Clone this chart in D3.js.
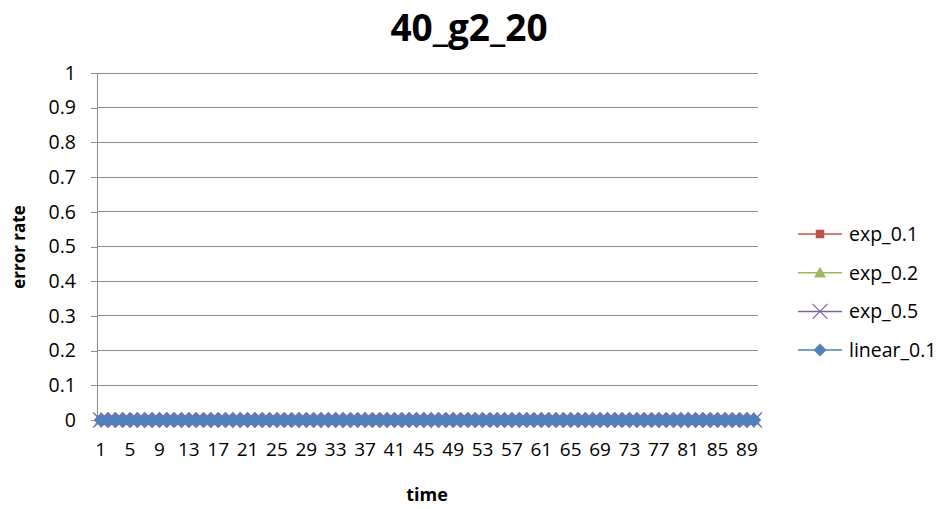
<!DOCTYPE html>
<html>
<head>
<meta charset="utf-8">
<script src="https://cdn.jsdelivr.net/npm/d3@7/dist/d3.min.js"></script>
<style>
  body { margin: 0; background: #fff; }
  svg { display: block; }
  text { font-family: "Open Sans", Lato, "Liberation Sans", sans-serif; fill: #000; }
</style>
</head>
<body>
<svg id="chart" width="944" height="509"></svg>
<script>
// time steps 1..90
const times = [
  1,2,3,4,5,6,7,8,9,10,11,12,13,14,15,16,17,18,19,20,
  21,22,23,24,25,26,27,28,29,30,31,32,33,34,35,36,37,38,39,40,
  41,42,43,44,45,46,47,48,49,50,51,52,53,54,55,56,57,58,59,60,
  61,62,63,64,65,66,67,68,69,70,71,72,73,74,75,76,77,78,79,80,
  81,82,83,84,85,86,87,88,89,90
];
const exp01 = [
  0,0,0,0,0,0,0,0,0,0,0,0,0,0,0,0,0,0,0,0,0,0,0,0,0,0,0,0,0,0,
  0,0,0,0,0,0,0,0,0,0,0,0,0,0,0,0,0,0,0,0,0,0,0,0,0,0,0,0,0,0,
  0,0,0,0,0,0,0,0,0,0,0,0,0,0,0,0,0,0,0,0,0,0,0,0,0,0,0,0,0,0
];
const exp02 = [
  0,0,0,0,0,0,0,0,0,0,0,0,0,0,0,0,0,0,0,0,0,0,0,0,0,0,0,0,0,0,
  0,0,0,0,0,0,0,0,0,0,0,0,0,0,0,0,0,0,0,0,0,0,0,0,0,0,0,0,0,0,
  0,0,0,0,0,0,0,0,0,0,0,0,0,0,0,0,0,0,0,0,0,0,0,0,0,0,0,0,0,0
];
const exp05 = [
  0,0,0,0,0,0,0,0,0,0,0,0,0,0,0,0,0,0,0,0,0,0,0,0,0,0,0,0,0,0,
  0,0,0,0,0,0,0,0,0,0,0,0,0,0,0,0,0,0,0,0,0,0,0,0,0,0,0,0,0,0,
  0,0,0,0,0,0,0,0,0,0,0,0,0,0,0,0,0,0,0,0,0,0,0,0,0,0,0,0,0,0
];
const linear01 = [
  0,0,0,0,0,0,0,0,0,0,0,0,0,0,0,0,0,0,0,0,0,0,0,0,0,0,0,0,0,0,
  0,0,0,0,0,0,0,0,0,0,0,0,0,0,0,0,0,0,0,0,0,0,0,0,0,0,0,0,0,0,
  0,0,0,0,0,0,0,0,0,0,0,0,0,0,0,0,0,0,0,0,0,0,0,0,0,0,0,0,0,0
];
const yTicks = [0, 0.1, 0.2, 0.3, 0.4, 0.5, 0.6, 0.7, 0.8, 0.9, 1];
const xLabelEvery = 4;

const seriesList = [
  { name: "exp_0.1",    values: exp01,    color: "#C0504D", symbol: "square",   size: 8,   legendSize: 8.5 },
  { name: "exp_0.2",    values: exp02,    color: "#9BBB59", symbol: "triangle", size: 12,  legendSize: 12 },
  { name: "exp_0.5",    values: exp05,    color: "#8064A2", symbol: "cross",    size: 7.5, legendSize: 7.5 },
  { name: "linear_0.1", values: linear01, color: "#4F81BD", symbol: "diamond",  size: 7,   legendSize: 6.5 }
];

const svg = d3.select("#chart");
const m = { left: 97, right: 758, top: 73, bottom: 420 };

const x = d3.scaleBand().domain(times).range([m.left, m.right]).padding(0);
const y = d3.scaleLinear().domain([0, 1]).range([m.bottom, m.top]);

// gridlines
svg.append("g").selectAll("line").data(yTicks.filter(d => d > 0)).join("line")
  .attr("x1", m.left).attr("x2", m.right)
  .attr("y1", d => y(d)).attr("y2", d => y(d))
  .attr("stroke", "#8c8c8c").attr("stroke-width", 1)
  .attr("shape-rendering", "crispEdges");

// y axis
const yAxis = svg.append("g").attr("transform", `translate(${m.left},0)`)
  .call(d3.axisLeft(y).tickValues(yTicks).tickSize(6).tickPadding(15)
    .tickFormat(d => d3.format("~g")(d)));
yAxis.select(".domain").attr("stroke", "#8c8c8c").attr("shape-rendering", "crispEdges");
yAxis.selectAll(".tick line").attr("stroke", "#8c8c8c").attr("shape-rendering", "crispEdges");
yAxis.selectAll(".tick text").attr("font-size", 19.5)
  .attr("font-family", "'Open Sans', Lato, sans-serif").attr("fill", "#222");

// x axis
const xAxis = svg.append("g").attr("transform", `translate(0,${m.bottom})`)
  .call(d3.axisBottom(x).tickValues(times.filter((d, i) => i % xLabelEvery === 0))
    .tickSize(0).tickPadding(23));
xAxis.select(".domain").attr("stroke", "#8c8c8c").attr("shape-rendering", "crispEdges");
xAxis.selectAll(".tick text").attr("font-size", 19)
  .attr("font-family", "'Open Sans', Lato, sans-serif").attr("fill", "#222");

// marker shapes: size is the width (square, triangle) or half-extent (cross, diamond)
function markerPath(symbol, r) {
  const h = r / 2;
  switch (symbol) {
    case "square":   return `M${-h},${-h}H${h}V${h}H${-h}Z`;
    case "triangle": return `M0,${-r * 0.5}L${h},${r * 0.4}L${-h},${r * 0.4}Z`;
    case "diamond":  return `M0,${-r}L${r},0L0,${r}L${-r},0Z`;
    case "cross":    return `M${-r},${-r}L${r},${r}M${-r},${r}L${r},${-r}`;
  }
}
function drawMarker(g, color, symbol, size, px, py) {
  const p = g.append("path")
    .attr("d", markerPath(symbol, size))
    .attr("transform", `translate(${px},${py})`);
  if (symbol === "cross") p.attr("stroke", color).attr("stroke-width", 1.2).attr("fill", "none");
  else p.attr("fill", color);
}

// series lines and markers
const cx = d => x(d) + x.bandwidth() / 2;
seriesList.forEach(s => {
  const g = svg.append("g");
  g.append("path")
    .datum(s.values)
    .attr("d", d3.line().x((v, i) => cx(times[i])).y(v => y(v)))
    .attr("fill", "none").attr("stroke", s.color).attr("stroke-width", 2);
  s.values.forEach((v, i) => drawMarker(g, s.color, s.symbol, s.size, cx(times[i]), y(v)));
});

// legend
const legend = svg.append("g");
seriesList.forEach((s, i) => {
  const ly = 234 + i * 38.7;
  legend.append("line").attr("x1", 798).attr("x2", 842).attr("y1", ly).attr("y2", ly)
    .attr("stroke", s.color).attr("stroke-width", 1.5);
  drawMarker(legend, s.color, s.symbol, s.legendSize, 820, ly);
  legend.append("text").attr("x", 849).attr("y", ly).attr("dy", "0.35em")
    .attr("font-size", 19.5).attr("fill", "#222").text(s.name);
});

// titles
svg.append("text").attr("x", 469).attr("y", 41).attr("text-anchor", "middle")
  .attr("font-size", 37).attr("font-weight", "bold").text("40_g2_20");
svg.append("text").attr("x", 427).attr("y", 501).attr("text-anchor", "middle")
  .attr("font-size", 18).attr("font-weight", "bold").text("time");
svg.append("text").attr("transform", "translate(25,247) rotate(-90)").attr("text-anchor", "middle")
  .attr("font-size", 17).attr("font-weight", "bold").text("error rate");
</script>
</body>
</html>
